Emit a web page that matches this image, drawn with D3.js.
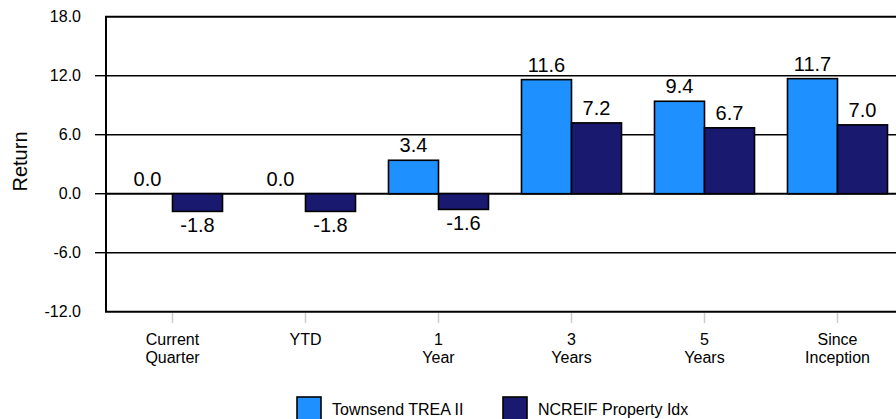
<!DOCTYPE html>
<html>
<head>
<meta charset="utf-8">
<script src="https://cdn.jsdelivr.net/npm/d3@7"></script>
<style>
  html, body { margin: 0; padding: 0; background: #fff; overflow: hidden; }
  svg { display: block; font-family: "Liberation Sans", Arial, Helvetica, sans-serif; }
</style>
</head>
<body>
<svg id="chart" width="896" height="419"></svg>
<script>
// Period returns (%)
const categories = [["Current", "Quarter"], ["YTD"], ["1", "Year"], ["3", "Years"], ["5", "Years"], ["Since", "Inception"]];
const seriesNames = ["Townsend TREA II", "NCREIF Property Idx"];
const townsend = [0.0, 0.0, 3.4, 11.6, 9.4, 11.7];
const ncreif = [-1.8, -1.8, -1.6, 7.2, 6.7, 7.0];
const yTicks = [18.0, 12.0, 6.0, 0.0, -6.0, -12.0];
const colors = ["#1E90FF", "#191970"];

// one decimal, plain ASCII hyphen for negatives
const fmt = d3.formatLocale({ decimal: ".", thousands: ",", grouping: [3], currency: ["", ""], minus: "-" }).format(".1f");

const svg = d3.select("#chart");
const plot = { left: 106, top: 16.7, right: 904, bottom: 311.7 };

const keys = categories.map((c, i) => i);
const x = d3.scaleBand().domain(keys).range([plot.left, plot.right]).paddingInner(0.248).paddingOuter(0.124);
const xSub = d3.scaleBand().domain([0, 1]).range([0, x.bandwidth()]);
const y = d3.scaleLinear().domain([-12, 18]).range([plot.bottom, plot.top]);

// Horizontal grid lines at inner ticks
const inner = yTicks.filter(t => t !== 18 && t !== -12);
svg.append("g").selectAll("line").data(inner).join("line")
  .attr("x1", plot.left).attr("x2", plot.right)
  .attr("y1", d => y(d)).attr("y2", d => y(d))
  .attr("stroke", "#000").attr("stroke-width", d => d === 0 ? 2 : 1.4);

// Y axis tick marks
svg.append("g").selectAll("line").data(inner).join("line")
  .attr("x1", 95).attr("x2", plot.left)
  .attr("y1", d => y(d)).attr("y2", d => y(d))
  .attr("stroke", "#000").attr("stroke-width", 1.4);

// Y axis labels
svg.append("g").selectAll("text").data(yTicks).join("text")
  .attr("x", 81).attr("y", d => y(d))
  .attr("text-anchor", "end").attr("dominant-baseline", "central")
  .attr("font-size", 16).attr("fill", "#000")
  .text(d => fmt(d));

// Y axis title
svg.append("text")
  .attr("transform", "translate(27," + 161.5 + ") rotate(-90)")
  .attr("text-anchor", "middle")
  .attr("font-size", 20).attr("fill", "#000")
  .text("Return");

// Bars
const data = keys.map(i => [townsend[i], ncreif[i]]);
const groups = svg.append("g").selectAll("g").data(data).join("g")
  .attr("transform", (d, i) => "translate(" + x(i) + ",0)");

groups.selectAll("rect").data(d => d.map((v, s) => ({ v, s }))).join("rect")
  .filter(d => d.v !== 0)
  .attr("x", d => xSub(d.s))
  .attr("width", xSub.bandwidth())
  .attr("y", d => y(Math.max(0, d.v)))
  .attr("height", d => Math.abs(y(d.v) - y(0)))
  .attr("fill", d => colors[d.s])
  .attr("stroke", "#000").attr("stroke-width", 1.6);

// Value labels
groups.selectAll("text").data(d => d.map((v, s) => ({ v, s }))).join("text")
  .attr("x", d => xSub(d.s) + xSub.bandwidth() / 2)
  .attr("y", d => d.v >= 0 ? y(d.v) - 8 : y(d.v) + 21)
  .attr("text-anchor", "middle")
  .attr("font-size", 20).attr("fill", "#000")
  .text(d => fmt(d.v));

// Plot frame: top, left, bottom
svg.append("path")
  .attr("d", `M${plot.right},${plot.top}H${plot.left}V${plot.bottom}H${plot.right}`)
  .attr("fill", "none").attr("stroke", "#000").attr("stroke-width", 2);

// Category ticks and labels
const xg = svg.append("g");
xg.selectAll("line").data(keys).join("line")
  .attr("x1", i => x(i) + x.bandwidth() / 2).attr("x2", i => x(i) + x.bandwidth() / 2)
  .attr("y1", 313).attr("y2", 323)
  .attr("stroke", "#ccc").attr("stroke-width", 1.5);

xg.selectAll("text").data(keys).join("text")
  .attr("x", i => x(i) + x.bandwidth() / 2)
  .attr("y", 345)
  .attr("text-anchor", "middle")
  .attr("font-size", 16).attr("fill", "#000")
  .each(function (i) {
    const t = d3.select(this);
    categories[i].forEach((line, k) => {
      t.append("tspan").attr("x", x(i) + x.bandwidth() / 2).attr("dy", k === 0 ? 0 : 18).text(line);
    });
  });

// Legend
const legendX = [297, 503];
const lg = svg.append("g").selectAll("g").data(seriesNames).join("g")
  .attr("transform", (d, i) => "translate(" + legendX[i] + ",397)");
lg.append("rect").attr("width", 24).attr("height", 24)
  .attr("fill", (d, i) => colors[i]).attr("stroke", "#000").attr("stroke-width", 1.6);
lg.append("text").attr("x", 35).attr("y", 18)
  .attr("font-size", 16).attr("fill", "#000")
  .text(d => d);
</script>
</body>
</html>
